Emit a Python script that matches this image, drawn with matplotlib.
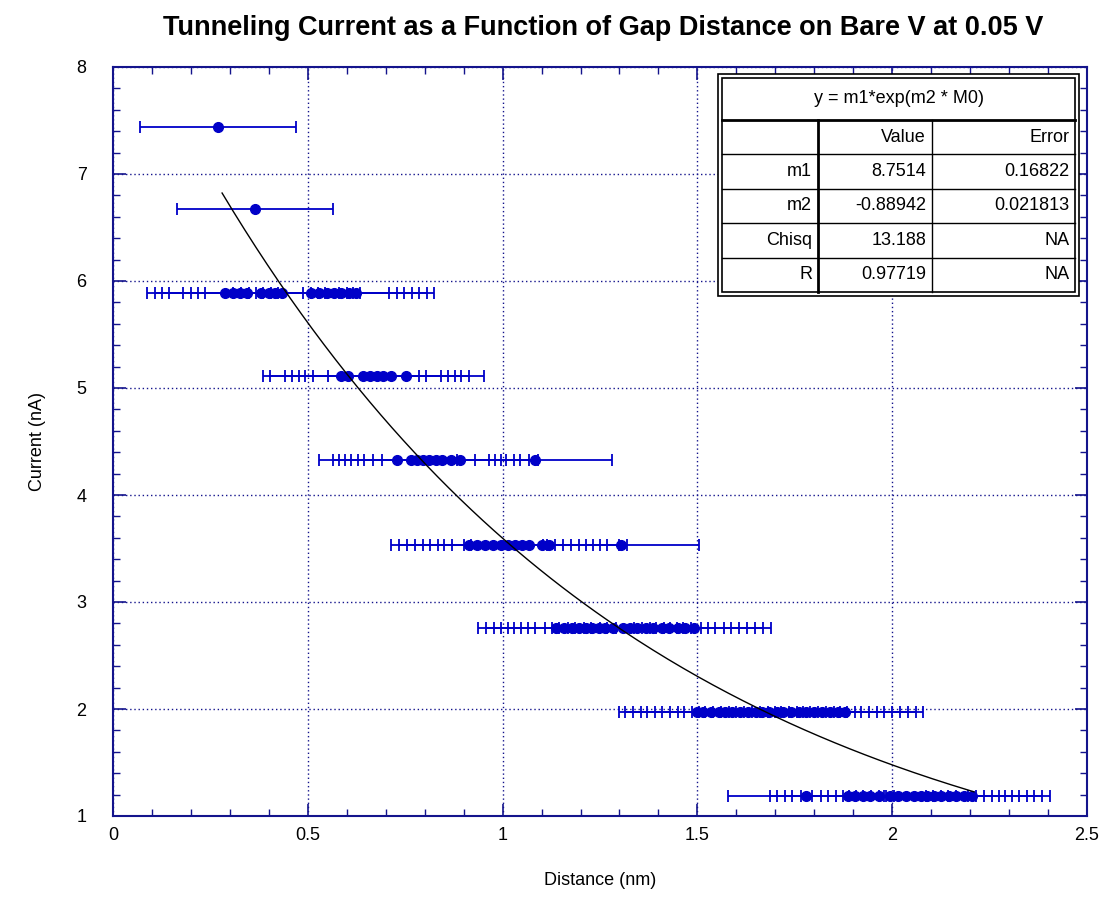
import numpy as np
import matplotlib
matplotlib.use("Agg")
import matplotlib.pyplot as plt
from matplotlib.ticker import MultipleLocator

plt.rcParams['font.family'] = ['Liberation Sans', 'DejaVu Sans']

# current level of each sweep (nA) and the gap distances measured at it (nm)
current = [7.44, 6.67, 5.89, 5.11, 4.33, 3.53, 2.76, 1.97, 1.19]
dist_744 = [0.27]
dist_667 = [0.364]
dist_589 = [0.288, 0.307, 0.326, 0.345, 0.38, 0.40, 0.417, 0.435,
            0.509, 0.529, 0.548, 0.567, 0.585, 0.605, 0.623]
dist_511 = [0.585, 0.603, 0.641, 0.659, 0.677, 0.692, 0.713, 0.751]
dist_433 = [0.73, 0.765, 0.78, 0.795, 0.81, 0.83, 0.845, 0.868, 0.89, 1.082]
dist_353 = [0.913, 0.935, 0.955, 0.975, 0.995, 1.013, 1.033, 1.05, 1.069,
            1.10, 1.12, 1.303]
dist_276 = [1.138, 1.157, 1.178, 1.195, 1.213, 1.23, 1.247, 1.264, 1.283,
            1.308, 1.326, 1.346, 1.369, 1.385, 1.408, 1.428, 1.449, 1.468, 1.49]
dist_197 = [1.50, 1.515, 1.535, 1.555, 1.57, 1.59, 1.61, 1.63, 1.65, 1.665,
            1.685, 1.705, 1.72, 1.74, 1.76, 1.78, 1.80, 1.82, 1.84, 1.86, 1.88]
dist_119 = [1.779, 1.886, 1.905, 1.924, 1.944, 1.965, 1.995, 2.016, 2.036,
            2.055, 2.074, 2.09, 2.107, 2.126, 2.145, 2.165, 2.185, 2.205]
dist_err = 0.2

# fit results shown in the box
m1, m1_err = 8.7514, 0.16822
m2, m2_err = -0.88942, 0.021813
chisq = 13.188
r_val = 0.97719
fit_range = (0.28, 2.21)

rows = [dist_744, dist_667, dist_589, dist_511, dist_433, dist_353,
        dist_276, dist_197, dist_119]
xs = np.concatenate([np.array(r, dtype=float) for r in rows])
ys = np.concatenate([np.full(len(r), c) for r, c in zip(rows, current)])

navy = "#14148c"
blue = "#0000c8"

fig = plt.figure(figsize=(11.13, 9.21), dpi=100)
ax = fig.add_axes([113 / 1113, 1 - 816 / 921, (1087 - 113) / 1113, (816 - 67) / 921])

ax.errorbar(xs, ys, xerr=dist_err, fmt='o', color=blue, ms=7, elinewidth=1.3,
            capsize=4.5, capthick=1.3, zorder=3)

fx = np.linspace(fit_range[0], fit_range[1], 200)
ax.plot(fx, m1 * np.exp(m2 * fx), color='black', lw=1.0, zorder=4)

ax.set_xlim(0, 2.5)
ax.set_ylim(1, 8)
ax.xaxis.set_major_locator(MultipleLocator(0.5))
ax.xaxis.set_minor_locator(MultipleLocator(0.1))
ax.yaxis.set_major_locator(MultipleLocator(1))
ax.yaxis.set_minor_locator(MultipleLocator(0.2))
ax.xaxis.set_major_formatter(plt.FuncFormatter(lambda v, p: f"{v:g}"))
ax.tick_params(which='both', direction='in', top=True, right=True, color=navy,
               labelsize=13)
ax.tick_params(axis='x', pad=8)
ax.tick_params(axis='y', pad=19)
ax.tick_params(which='major', length=9, width=1.2)
ax.tick_params(which='minor', length=5, width=1.0)
for s in ax.spines.values():
    s.set_color(navy)
    s.set_linewidth(1.5)
ax.grid(True, which='major', color=navy, linestyle=(0, (1, 2)), linewidth=1.0)

ax.set_xlabel("Distance (nm)", fontsize=13, labelpad=20)
ax.set_ylabel("Current (nA)", fontsize=13, labelpad=22)
fig.text(0.542, 0.97, "Tunneling Current as a Function of Gap Distance on Bare V at 0.05 V",
         ha='center', va='center', fontsize=19.5, fontweight='bold')

# fit parameter box (axes fraction coords)
x0, x1 = (722 - 113) / 974, (1075 - 113) / 974
cols = [x0, (818 - 113) / 974, (932 - 113) / 974, x1]
ytop, ybot = (816 - 78) / 749, (816 - 292) / 749
head = (816 - 120) / 749
rh = (head - ybot) / 5
ax.add_patch(plt.Rectangle((x0 - 0.004, ybot - 0.005), x1 - x0 + 0.008, ytop - ybot + 0.01,
                           transform=ax.transAxes, facecolor='white', edgecolor='black',
                           lw=1.2, zorder=5))
ax.add_patch(plt.Rectangle((x0, ybot), x1 - x0, ytop - ybot, transform=ax.transAxes,
                           facecolor='white', edgecolor='black', lw=1.2, zorder=5))
ax.plot([x0, x1], [head, head], transform=ax.transAxes, color='black', lw=2, zorder=6)
for i in range(1, 5):
    yy = head - i * rh
    ax.plot([x0, x1], [yy, yy], transform=ax.transAxes, color='black', lw=1, zorder=6)
ax.plot([cols[1], cols[1]], [ybot, head], transform=ax.transAxes, color='black', lw=2, zorder=6)
ax.plot([cols[2], cols[2]], [ybot, head], transform=ax.transAxes, color='black', lw=1, zorder=6)

ax.text((x0 + x1) / 2, (ytop + head) / 2, "y = m1*exp(m2 * M0)", transform=ax.transAxes,
        ha='center', va='center', fontsize=13, zorder=7)
cells = [["", "Value", "Error"],
         ["m1", f"{m1}", f"{m1_err}"],
         ["m2", f"{m2}", f"{m2_err}"],
         ["Chisq", f"{chisq}", "NA"],
         ["R", f"{r_val}", "NA"]]
for i, row in enumerate(cells):
    yy = head - (i + 0.5) * rh
    for j, txt in enumerate(row):
        ax.text(cols[j + 1] - 0.006, yy, txt, transform=ax.transAxes, ha='right',
                va='center', fontsize=13, zorder=7)

fig.savefig("out.png", dpi=100)
